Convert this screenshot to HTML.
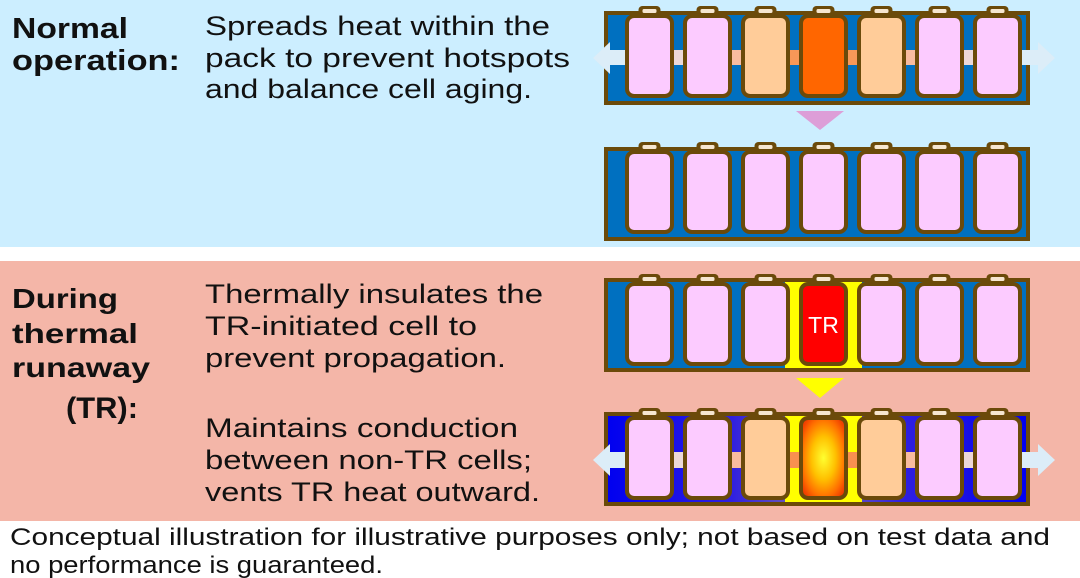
<!DOCTYPE html>
<html><head><meta charset="utf-8"><style>
html,body{margin:0;padding:0;background:#fff}
svg{display:block}
text{font-family:"Liberation Sans",sans-serif;fill:#111}
</style></head><body>
<svg width="1080" height="578" viewBox="0 0 1080 578" xmlns="http://www.w3.org/2000/svg">
<defs>
<g id="cap"><rect x="-11" y="-6" width="22" height="10" rx="4" fill="#6b4a0a"/><rect x="-7" y="-3" width="14" height="4" rx="1.5" fill="#f6e6d0"/></g>
<radialGradient id="hot" cx="50%" cy="50%" r="60%">
<stop offset="0" stop-color="#ffff30"/><stop offset="0.45" stop-color="#ffc000"/><stop offset="0.8" stop-color="#ff7000"/><stop offset="1" stop-color="#f04000"/>
</radialGradient>
<linearGradient id="blu" x1="0" x2="1" y1="0" y2="0">
<stop offset="0" stop-color="#0000f0"/><stop offset="0.3" stop-color="#3020e0"/><stop offset="0.42" stop-color="#6050c0"/><stop offset="0.58" stop-color="#6050c0"/><stop offset="0.7" stop-color="#3020e0"/><stop offset="1" stop-color="#0000f0"/>
</linearGradient>
</defs>
<rect x="0" y="0" width="1080" height="247" fill="#cceeff"/>
<rect x="0" y="261" width="1080" height="260" fill="#f4b6a8"/>

<text x="12" y="38" font-size="29" font-weight="bold" textLength="116" lengthAdjust="spacingAndGlyphs">Normal</text>
<text x="12" y="70" font-size="29" font-weight="bold" textLength="168" lengthAdjust="spacingAndGlyphs">operation:</text>
<text x="205" y="35" font-size="27" textLength="345" lengthAdjust="spacingAndGlyphs">Spreads heat within the</text>
<text x="205" y="67" font-size="27" textLength="365" lengthAdjust="spacingAndGlyphs">pack to prevent hotspots</text>
<text x="205" y="98" font-size="27" textLength="327" lengthAdjust="spacingAndGlyphs">and balance cell aging.</text>

<text x="12" y="308" font-size="28" font-weight="bold" textLength="106" lengthAdjust="spacingAndGlyphs">During</text>
<text x="12" y="343" font-size="28" font-weight="bold" textLength="126" lengthAdjust="spacingAndGlyphs">thermal</text>
<text x="12" y="377" font-size="28" font-weight="bold" textLength="138" lengthAdjust="spacingAndGlyphs">runaway</text>
<text x="66" y="418" font-size="30" font-weight="bold" textLength="72" lengthAdjust="spacingAndGlyphs">(TR):</text>
<text x="205" y="303" font-size="27" textLength="338" lengthAdjust="spacingAndGlyphs">Thermally insulates the</text>
<text x="205" y="335" font-size="27" textLength="272" lengthAdjust="spacingAndGlyphs">TR-initiated cell to</text>
<text x="205" y="367" font-size="27" textLength="301" lengthAdjust="spacingAndGlyphs">prevent propagation.</text>
<text x="205" y="437" font-size="27" textLength="313" lengthAdjust="spacingAndGlyphs">Maintains conduction</text>
<text x="205" y="469" font-size="27" textLength="327" lengthAdjust="spacingAndGlyphs">between non-TR cells;</text>
<text x="205" y="501" font-size="27" textLength="335" lengthAdjust="spacingAndGlyphs">vents TR heat outward.</text>

<text x="10" y="545" font-size="24" textLength="1040" lengthAdjust="spacingAndGlyphs">Conceptual illustration for illustrative purposes only; not based on test data and</text>
<text x="10" y="573" font-size="24" textLength="373" lengthAdjust="spacingAndGlyphs">no performance is guaranteed.</text>

<!-- PACK 1 -->
<rect x="606" y="13" width="422" height="90" fill="#0070c0" stroke="#6b4a0a" stroke-width="4"/>
<polygon points="593,58 610,42 610,50 628,50 628,65 610,65 610,74" fill="#dcedf8"/>
<polygon points="1055,58 1038,42 1038,50 1018,50 1018,65 1038,65 1038,74" fill="#dcedf8"/>
<rect x="670" y="50" width="17" height="15" fill="#ecd8d8"/>
<rect x="728" y="50" width="17" height="15" fill="#f8bca0"/>
<rect x="786" y="50" width="17" height="15" fill="#f89858"/>
<rect x="844" y="50" width="17" height="15" fill="#f89858"/>
<rect x="902" y="50" width="17" height="15" fill="#f8bca0"/>
<rect x="960" y="50" width="17" height="15" fill="#ecd8d8"/>
<g stroke="#6b4a0a" stroke-width="4">
<rect x="627" y="16" width="45" height="80" rx="7" fill="#fccbff"/>
<rect x="685" y="16" width="45" height="80" rx="7" fill="#fccbff"/>
<rect x="743" y="16" width="45" height="80" rx="7" fill="#ffcc99"/>
<rect x="801" y="16" width="45" height="80" rx="7" fill="#ff6600"/>
<rect x="859" y="16" width="45" height="80" rx="7" fill="#ffcc99"/>
<rect x="917" y="16" width="45" height="80" rx="7" fill="#fccbff"/>
<rect x="975" y="16" width="45" height="80" rx="7" fill="#fccbff"/>
</g>
<use href="#cap" x="649.5" y="12"/><use href="#cap" x="707.5" y="12"/><use href="#cap" x="765.5" y="12"/><use href="#cap" x="823.5" y="12"/><use href="#cap" x="881.5" y="12"/><use href="#cap" x="939.5" y="12"/><use href="#cap" x="997.5" y="12"/>

<polygon points="796,111 844,111 820,130" fill="#dd9ed8"/>

<!-- PACK 2 -->
<rect x="606" y="149" width="422" height="90" fill="#0070c0" stroke="#6b4a0a" stroke-width="4"/>
<g stroke="#6b4a0a" stroke-width="4" fill="#fccbff">
<rect x="627" y="152" width="45" height="80" rx="7"/>
<rect x="685" y="152" width="45" height="80" rx="7"/>
<rect x="743" y="152" width="45" height="80" rx="7"/>
<rect x="801" y="152" width="45" height="80" rx="7"/>
<rect x="859" y="152" width="45" height="80" rx="7"/>
<rect x="917" y="152" width="45" height="80" rx="7"/>
<rect x="975" y="152" width="45" height="80" rx="7"/>
</g>
<use href="#cap" x="649.5" y="148"/><use href="#cap" x="707.5" y="148"/><use href="#cap" x="765.5" y="148"/><use href="#cap" x="823.5" y="148"/><use href="#cap" x="881.5" y="148"/><use href="#cap" x="939.5" y="148"/><use href="#cap" x="997.5" y="148"/>

<!-- PACK 3 -->
<rect x="606" y="280" width="422" height="90" fill="#0070c0" stroke="#6b4a0a" stroke-width="4"/>
<rect x="785" y="282" width="77" height="86" fill="#ffff00"/>
<g stroke="#6b4a0a" stroke-width="4">
<rect x="627" y="284" width="45" height="80" rx="7" fill="#fccbff"/>
<rect x="685" y="284" width="45" height="80" rx="7" fill="#fccbff"/>
<rect x="743" y="284" width="45" height="80" rx="7" fill="#fccbff"/>
<rect x="801" y="284" width="45" height="80" rx="7" fill="#ff0000"/>
<rect x="859" y="284" width="45" height="80" rx="7" fill="#fccbff"/>
<rect x="917" y="284" width="45" height="80" rx="7" fill="#fccbff"/>
<rect x="975" y="284" width="45" height="80" rx="7" fill="#fccbff"/>
</g>
<use href="#cap" x="649.5" y="280"/><use href="#cap" x="707.5" y="280"/><use href="#cap" x="765.5" y="280"/><use href="#cap" x="823.5" y="280"/><use href="#cap" x="881.5" y="280"/><use href="#cap" x="939.5" y="280"/><use href="#cap" x="997.5" y="280"/>
<text x="823.5" y="333" font-size="23" text-anchor="middle" style="fill:#fff">TR</text>

<polygon points="796,378 844,378 820,398" fill="#ffff00"/>

<!-- PACK 4 -->
<rect x="606" y="414" width="422" height="90" fill="url(#blu)" stroke="#6b4a0a" stroke-width="4"/>
<rect x="785" y="416" width="77" height="86" fill="#ffff00"/>
<polygon points="593,460 610,444 610,452 628,452 628,468 610,468 610,476" fill="#dcedf8"/>
<polygon points="1055,460 1038,444 1038,452 1018,452 1018,468 1038,468 1038,476" fill="#dcedf8"/>
<rect x="670" y="452" width="17" height="16" fill="#ecd8d8"/>
<rect x="728" y="452" width="17" height="16" fill="#f8bca0"/>
<rect x="786" y="452" width="17" height="16" fill="#f89050"/>
<rect x="844" y="452" width="17" height="16" fill="#f89050"/>
<rect x="902" y="452" width="17" height="16" fill="#f8bca0"/>
<rect x="960" y="452" width="17" height="16" fill="#ecd8d8"/>
<g stroke="#6b4a0a" stroke-width="4">
<rect x="627" y="418" width="45" height="80" rx="7" fill="#fccbff"/>
<rect x="685" y="418" width="45" height="80" rx="7" fill="#fccbff"/>
<rect x="743" y="418" width="45" height="80" rx="7" fill="#ffcc99"/>
<rect x="801" y="418" width="45" height="80" rx="7" fill="url(#hot)"/>
<rect x="859" y="418" width="45" height="80" rx="7" fill="#ffcc99"/>
<rect x="917" y="418" width="45" height="80" rx="7" fill="#fccbff"/>
<rect x="975" y="418" width="45" height="80" rx="7" fill="#fccbff"/>
</g>
<use href="#cap" x="649.5" y="414"/><use href="#cap" x="707.5" y="414"/><use href="#cap" x="765.5" y="414"/><use href="#cap" x="823.5" y="414"/><use href="#cap" x="881.5" y="414"/><use href="#cap" x="939.5" y="414"/><use href="#cap" x="997.5" y="414"/>
</svg>
</body></html>
